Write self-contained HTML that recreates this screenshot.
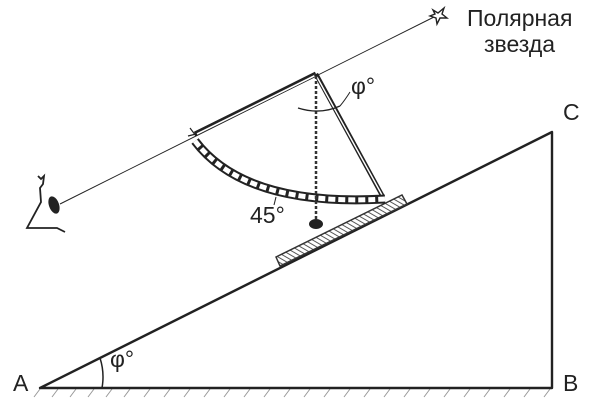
<!DOCTYPE html>
<html><head><meta charset="utf-8"><style>body{margin:0;background:#fff}svg{display:block}text{font-family:"Liberation Sans",sans-serif;fill:#222;font-size:23px}</style></head><body>
<svg width="600" height="404" viewBox="0 0 600 404">
<defs><pattern id="h" width="4" height="4" patternUnits="userSpaceOnUse" patternTransform="rotate(-60)"><line x1="0" y1="0" x2="0" y2="4" stroke="#444" stroke-width="1.8"/></pattern></defs>
<g stroke="#999" stroke-width="1">
<path d="M40 389 l-6 8 M58 389 l-6 8 M76 389 l-6 8 M94 389 l-6 8 M112 389 l-6 8 M130 389 l-6 8 M150 389 l-6 8 M170 389 l-6 8 M190 389 l-6 8 M210 389 l-6 8 M230 389 l-6 8 M250 389 l-6 8 M270 389 l-6 8 M290 389 l-6 8 M310 389 l-6 8 M330 389 l-6 8 M350 389 l-6 8 M370 389 l-6 8 M390 389 l-6 8 M410 389 l-6 8 M430 389 l-6 8 M450 389 l-6 8 M470 389 l-6 8 M490 389 l-6 8 M510 389 l-6 8 M530 389 l-6 8 M550 389 l-6 8"/>
</g>
<polygon points="40,388 552,132 552,388" fill="none" stroke="#222" stroke-width="2.4" stroke-linejoin="round"/>
<path d="M100 358 A62 62 0 0 1 102 388" fill="none" stroke="#222" stroke-width="1.5"/>
<line x1="60" y1="204" x2="436" y2="16" stroke="#222" stroke-width="1"/>
<path d="M433 10 l5 3 l6-5 l-2 6 l5 4 l-7 0 l-3 6 l-1-6 l-6-2 l5-2 z" fill="#fff" stroke="#222" stroke-width="1.4"/>
<path d="M38 176 l3 3 l3 -3 l-1 8 l-3 4 l1 14 l-14 26 l30 0 l8 4" fill="none" stroke="#222" stroke-width="1.8"/>
<ellipse cx="54" cy="205" rx="5" ry="9" fill="#222" transform="rotate(-20 54 205)"/>
<polygon points="276,257 402,195 407,204 280,266" fill="url(#h)" stroke="#333" stroke-width="1.5"/>
<path d="M195 134 L316 74" stroke="#222" stroke-width="5" fill="none"/>
<path d="M197 134 L316 75" stroke="#fff" stroke-width="1.6" fill="none"/>
<path d="M316 74 L383 197" stroke="#222" stroke-width="4.5" fill="none"/>
<path d="M317 77 L382 195" stroke="#fff" stroke-width="1.4" fill="none"/>
<path d="M195 141 Q245 207 385 199" stroke="#222" stroke-width="9" fill="none"/>
<path d="M195 141 Q245 207 385 199" stroke="#fff" stroke-width="5" fill="none" stroke-dasharray="7 3"/>
<path d="M190 128 l6 8 M188 136 l8 -2" stroke="#222" stroke-width="1.2"/>
<line x1="316" y1="76" x2="316" y2="220" stroke="#333" stroke-width="2.5" stroke-dasharray="3 2"/>
<ellipse cx="316" cy="224" rx="7" ry="5" fill="#222"/>
<path d="M298 108 Q320 115 340 106" fill="none" stroke="#222" stroke-width="1.3"/>
<path d="M340 106 Q345 100 350 92" fill="none" stroke="#222" stroke-width="1"/>
<path d="M274 205 l2 -8" stroke="#222" stroke-width="1"/>
<text x="467" y="26">Полярная</text>
<text x="484" y="52">звезда</text>
<text x="563" y="120">C</text>
<text x="563" y="391">B</text>
<text x="13" y="391">A</text>
<text x="110" y="367">φ°</text>
<text x="351" y="94">φ°</text>
<text x="250" y="223">45°</text>
</svg></body></html>
